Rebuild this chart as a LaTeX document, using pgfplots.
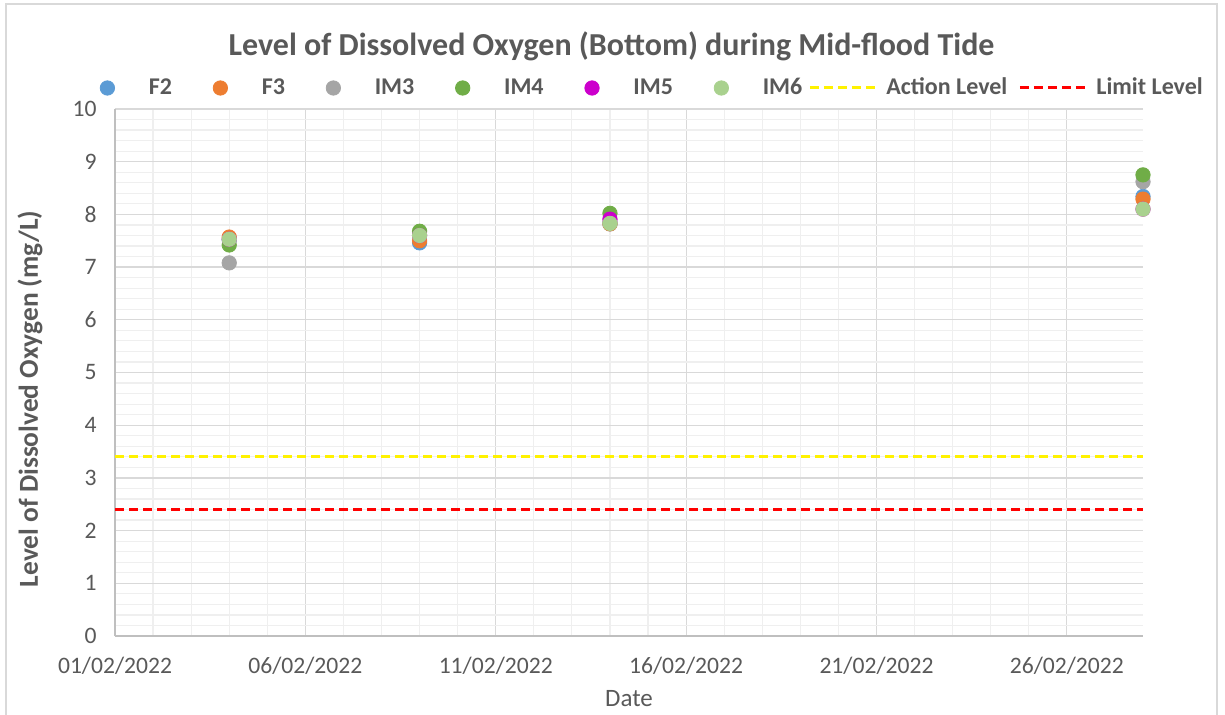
\documentclass[border=0pt]{standalone}
\usepackage{pgfplots}
\pgfplotsset{compat=1.18}
\usepackage{fontspec}
\setmainfont{Carlito}
\definecolor{txt}{HTML}{595959}
\definecolor{cF2}{HTML}{5B9BD5}
\definecolor{cF3}{HTML}{ED7D31}
\definecolor{cIM3}{HTML}{A5A5A5}
\definecolor{cIM4}{HTML}{70AD47}
\definecolor{cIM5}{HTML}{CC00CC}
\definecolor{cIM6}{HTML}{A9D18E}
\definecolor{majgrid}{HTML}{D9D9D9}
\definecolor{mingrid}{HTML}{EFEFEF}
\definecolor{axisc}{HTML}{BFBFBF}
\pgfplotsset{
  actimg/.style={legend image code/.code={\path (-3pt,0pt) (37.5pt,0pt); \draw[##1] (0pt,0pt) -- (35pt,0pt);}},
  limimg/.style={legend image code/.code={\path (-5.5pt,0pt) (37.5pt,0pt); \draw[##1] (0pt,0pt) -- (35pt,0pt);}},
}
\begin{document}
\begin{tikzpicture}
\useasboundingbox (0pt,0pt) rectangle (612.5pt,-357.5pt);
\draw[majgrid, line width=0.8pt] (3pt,-360pt) -- (3pt,-2pt) -- (608.5pt,-2pt) -- (608.5pt,-360pt);
\begin{axis}[
  scale only axis,
  width=514pt, height=263.5pt,
  at={(57.5pt,-318pt)}, anchor=south west,
  xmin=0, xmax=27, ymin=0, ymax=10,
  clip=false,
  axis x line*=bottom, axis y line*=left,
  axis line style={axisc, line width=0.6pt},
  xtick={0,5,10,15,20,25},
  xticklabels={01/02/2022,06/02/2022,11/02/2022,16/02/2022,21/02/2022,26/02/2022},
  minor x tick num=4,
  ytick={0,1,...,10},
  minor y tick num=4,
  major tick length=0pt, minor tick length=0pt,
  grid=both,
  major grid style={majgrid, line width=0.6pt},
  minor grid style={mingrid, line width=0.6pt},
  /pgf/number format/assume math mode=true,
  tick label style={font=\fontsize{11.8}{14}\selectfont, text=txt},
  xticklabel style={inner sep=0pt, anchor=north, yshift=-10.5pt},
  yticklabel style={inner sep=0pt, anchor=east, xshift=-9pt},
  title={Level of Dissolved Oxygen (Bottom) during Mid-flood Tide},
  every axis title shift=0pt,
  title style={at={(axis description cs:0.483,1.118)}, anchor=center, yshift=0pt, font=\bfseries\fontsize{16}{19}\selectfont, text=txt},
  xlabel={Date},
  xlabel style={at={(axis description cs:0.5,-0.1195)}, anchor=center, font=\fontsize{12.5}{15}\selectfont, text=txt},
  ylabel={Level of Dissolved Oxygen (mg/L)},
  ylabel style={at={(axis description cs:-0.0827,0.45)}, anchor=center, font=\bfseries\fontsize{13.7}{16}\selectfont, text=txt},
  legend columns=8,
  legend style={draw=none, fill=none, inner sep=0pt, outer sep=0pt, column sep=0pt,
    at={([xshift=-7.5pt,yshift=10.5pt]axis description cs:0,1)}, anchor=west,
    nodes={inner sep=0pt, font=\bfseries\fontsize{12}{14}\selectfont, text=txt}},
  legend cell align=left,
  every axis plot/.append style={only marks, mark=*, mark size=3.6pt},
  legend image code/.code={\path (-3.5pt,0pt) (20.5pt,0pt); \draw[#1] plot coordinates {(0pt,0pt)};},
]
\addplot[cF2, mark options={fill=cF2, draw=cF2}] coordinates {(3,7.52) (8,7.46) (13,7.82) (27,8.34)};
\addlegendentry{F2\hspace*{20.5pt}}
\addplot[cF3, mark options={fill=cF3, draw=cF3}] coordinates {(3,7.57) (8,7.50) (13,7.82) (27,8.29)};
\addlegendentry{F3\hspace*{20.5pt}}
\addplot[cIM3, mark options={fill=cIM3, draw=cIM3}] coordinates {(3,7.08) (8,7.60) (13,7.85) (27,8.62)};
\addlegendentry{IM3\hspace*{20.5pt}}
\addplot[cIM4, mark options={fill=cIM4, draw=cIM4}] coordinates {(3,7.42) (8,7.68) (13,8.02) (27,8.75)};
\addlegendentry{IM4\hspace*{20.5pt}}
\addplot[cIM5, mark options={fill=cIM5, draw=cIM5}] coordinates {(3,7.53) (8,7.60) (13,7.91) (27,8.10)};
\addlegendentry{IM5\hspace*{20.5pt}}
\addplot[cIM6, mark options={fill=cIM6, draw=cIM6}] coordinates {(3,7.53) (8,7.60) (13,7.83) (27,8.10)};
\addlegendentry{IM6}
\addplot[yellow, no marks, sharp plot, line width=1.5pt, dash pattern=on 4.5pt off 2.5pt, actimg]
  coordinates {(0,3.4) (27,3.4)};
\addlegendentry{Action Level}
\addplot[red, no marks, sharp plot, line width=1.5pt, dash pattern=on 4.5pt off 2.5pt, limimg]
  coordinates {(0,2.4) (27,2.4)};
\addlegendentry{Limit Level}
\end{axis}
\end{tikzpicture}
\end{document}
